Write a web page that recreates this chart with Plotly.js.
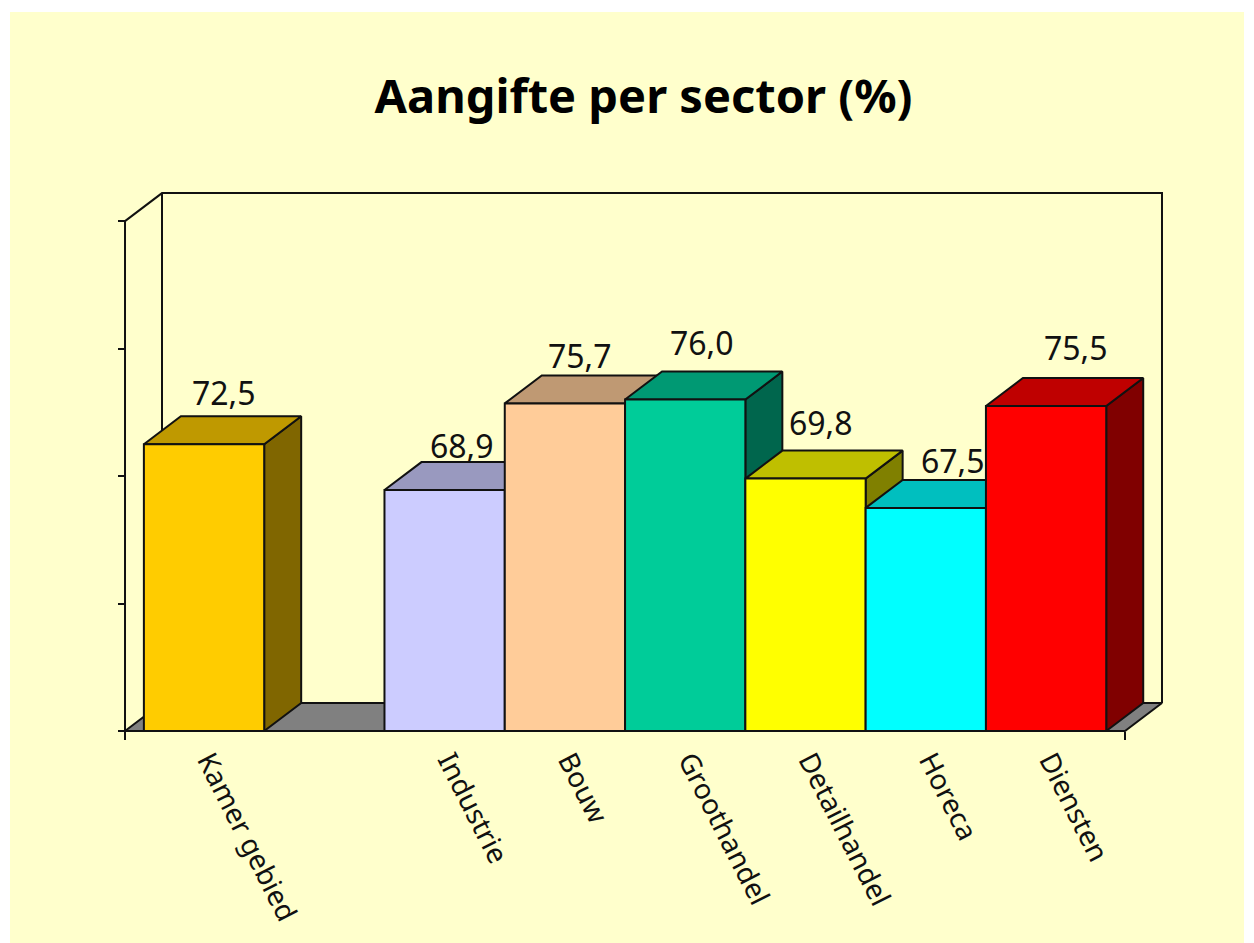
<!DOCTYPE html>
<html>
<head>
<meta charset="utf-8">
<script src="https://cdn.plot.ly/plotly-3.0.1.min.js"></script>
<style>
html,body{margin:0;padding:0;background:#fff;width:1254px;height:943px;overflow:hidden}
#chart{position:absolute;left:10px;top:12px;width:1234px;height:931px}
</style>
</head>
<body>
<div id="chart"></div>
<script>
var chartTitle = 'Aangifte per sector (%)';
var categories = ['Kamer gebied', '', 'Industrie', 'Bouw', 'Groothandel', 'Detailhandel', 'Horeca', 'Diensten'];
var values = [72.5, null, 68.9, 75.7, 76.0, 69.8, 67.5, 75.5];
var frontColors = ['#FFCC00', null, '#CCCCFF', '#FFCC99', '#00CC99', '#FFFF00', '#00FFFF', '#FF0000'];
var topColors = ['#BF9900', null, '#9999BF', '#BF9973', '#009973', '#BFBF00', '#00BFBF', '#BF0000'];
var sideColors = ['#806600', null, '#666680', '#80664D', '#00664D', '#808000', '#008080', '#800000'];
var labelShiftX = [20, 0, 17, 15, 17, 15, 27, 30];
var labelShiftY = [52, 0, 45, 48, 57, 56, 47, 58];
var yTicks = [50, 60, 70, 80, 90];

var yMin = 50, yMax = 90;
var xMin = -0.657, xMax = 7.656;
var depthX = 0.3075, depthY = 2.196;
var padX = 0.05, padY = 0.4;
var padLeft = 0.025, padBottom = 0.235;
var tickLabelOffset = 0.04;
var lineW = 2;
var ink = '#111111';
var bg = '#FFFFCC';
var labelFont = '"Noto Sans", "Open Sans", sans-serif';

var positions = categories.map(function (c, i) { return i; });
var idx = positions.filter(function (i) { return values[i] !== null; });

function poly(xs, ys, fill) {
  return {
    type: 'scatter', mode: 'lines', x: xs.concat(xs[0]), y: ys.concat(ys[0]),
    fill: 'toself', fillcolor: fill, line: {color: ink, width: lineW},
    hoverinfo: 'skip', showlegend: false, xaxis: 'x', yaxis: 'y'
  };
}
function path(xs, ys, ax, ay) {
  return {
    type: 'scatter', mode: 'lines', x: xs, y: ys, line: {color: ink, width: lineW},
    hoverinfo: 'skip', showlegend: false, xaxis: ax || 'x', yaxis: ay || 'y'
  };
}

var traces = [];
// Back wall, floor and left axis of the 3-D box
traces.push(path(
  [xMin, xMin + depthX, xMax + depthX, xMax + depthX],
  [yMax, yMax + depthY, yMax + depthY, yMin + depthY]
));
traces.push(path([xMin + depthX, xMin + depthX], [yMax + depthY, yMin + depthY]));
traces.push(path([xMin, xMin], [yMin, yMax]));
traces.push(poly(
  [xMin, xMin + depthX, xMax + depthX, xMax],
  [yMin, yMin + depthY, yMin + depthY, yMin],
  '#808080'
));

// Tops and sides, painted left to right
idx.forEach(function (i) {
  var v = values[i], l = i - 0.5, r = i + 0.5;
  traces.push(poly([r, r + depthX, r + depthX, r], [v, v + depthY, yMin + depthY, yMin], sideColors[i]));
  traces.push(poly([l, l + depthX, r + depthX, r], [v, v + depthY, v + depthY, v], topColors[i]));
});

// Front faces on the overlaid axes so that they cover earlier tops and sides
traces.push({
  type: 'bar', xaxis: 'x2', yaxis: 'y2',
  x: idx, y: idx.map(function (i) { return values[i] - yMin; }), base: yMin, width: 1,
  marker: {color: idx.map(function (i) { return frontColors[i]; }), line: {color: ink, width: lineW}},
  hoverinfo: 'skip', showlegend: false
});
// Base line of the front plane
traces.push(path([xMin, xMax], [yMin, yMin], 'x2', 'y2'));

var annotations = idx.map(function (i) {
  return {
    x: i, y: values[i], xref: 'x2', yref: 'y2', showarrow: false,
    text: values[i].toFixed(1).replace('.', ','),
    xshift: labelShiftX[i], yshift: labelShiftY[i],
    xanchor: 'center', yanchor: 'middle',
    font: {family: labelFont, size: 32, color: '#111'}
  };
});

var xRange = [xMin - padLeft, xMax + depthX + padX];
var yRange = [yMin - padBottom, yMax + depthY + padY];

var layout = {
  width: 1234, height: 931,
  margin: {l: 112, r: 76, t: 176, b: 209, pad: 0},
  paper_bgcolor: bg, plot_bgcolor: 'rgba(0,0,0,0)',
  showlegend: false, hovermode: false, barmode: 'overlay',
  title: {
    text: '<b>' + chartTitle + '</b>', x: 0.4986, xref: 'paper', xanchor: 'center',
    y: 0.909, yref: 'container', yanchor: 'middle',
    font: {family: '"Noto Sans", sans-serif', size: 47, color: '#000'}
  },
  xaxis: {
    range: xRange, tickmode: 'array',
    tickvals: idx.map(function (i) { return i + tickLabelOffset; }),
    ticktext: idx.map(function (i) { return categories[i]; }),
    ticks: '', tickangle: 63, ticklabelstandoff: 4, showgrid: false, zeroline: false, showline: false,
    tickfont: {family: labelFont, size: 28, color: '#111'}, fixedrange: true
  },
  yaxis: {
    range: yRange, tickmode: 'array', tickvals: yTicks, ticks: 'outside', ticklen: 7, tickwidth: lineW, tickcolor: ink,
    anchor: 'free', position: 3 / 1046,
    showticklabels: false, showgrid: false, zeroline: false, showline: false, fixedrange: true
  },
  xaxis2: {
    overlaying: 'x', anchor: 'free', position: 3 / 546, range: xRange, tickmode: 'array', tickvals: [xMin, xMax],
    ticks: 'outside', ticklen: 8, tickwidth: lineW, tickcolor: ink, showticklabels: false,
    showgrid: false, zeroline: false, showline: false, fixedrange: true
  },
  yaxis2: {overlaying: 'y', anchor: 'x2', range: yRange, visible: false, fixedrange: true},
  annotations: annotations
};

Plotly.newPlot('chart', traces, layout, {displayModeBar: false, staticPlot: true});
</script>
</body>
</html>
